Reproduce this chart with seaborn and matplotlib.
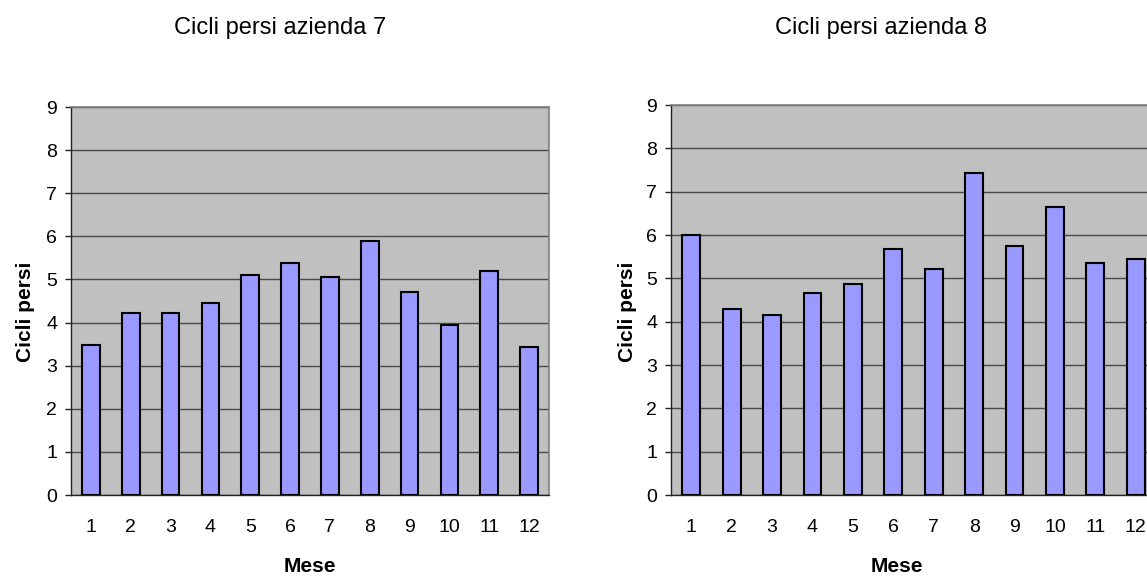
import matplotlib
matplotlib.use("Agg")
import matplotlib.pyplot as plt
import seaborn as sns
import pandas as pd
import numpy as np

mesi = ["1", "2", "3", "4", "5", "6", "7", "8", "9", "10", "11", "12"]
cicli_az7 = [3.48, 4.22, 4.22, 4.46, 5.11, 5.39, 5.05, 5.90, 4.70, 3.95, 5.20, 3.44]
cicli_az8 = [6.00, 4.30, 4.16, 4.67, 4.86, 5.68, 5.22, 7.44, 5.74, 6.65, 5.36, 5.45]
titoli = ["Cicli persi azienda 7", "Cicli persi azienda 8"]
y_ticks = [0, 1, 2, 3, 4, 5, 6, 7, 8, 9]
x_label = "Mese"
y_label = "Cicli persi"

sns.set_style("white")
plt.rcParams["font.family"] = ["Liberation Sans", "DejaVu Sans"]
plt.rcParams["text.color"] = "black"
plt.rcParams["axes.labelcolor"] = "black"
plt.rcParams["xtick.color"] = "black"
plt.rcParams["ytick.color"] = "black"

W, H = 1147, 583
fig = plt.figure(figsize=(W / 100, H / 100), dpi=100)
fig.patch.set_facecolor("white")

# axes rectangles in pixels: left, top, right, bottom
rects = [(71, 107, 549, 495), (671, 105, 1156, 495)]
title_x = [280, 881]
xlabel_x = [310, 897]
ylabel_x = [35, 637]

for i, (vals, (l, t, r, b)) in enumerate(zip([cicli_az7, cicli_az8], rects)):
    ax = fig.add_axes([l / W, 1 - b / H, (r - l) / W, (b - t) / H])
    df = pd.DataFrame({"Mese": mesi, "Cicli": vals})
    sns.barplot(data=df, x="Mese", y="Cicli", order=mesi, color="#9999FF",
                saturation=1, width=0.44, edgecolor="black", linewidth=1.5,
                ax=ax, zorder=3)
    ax.set_facecolor("#C0C0C0")
    ax.set_xlim(-0.5, len(mesi) - 0.5)
    ax.set_ylim(0, 9)
    ax.set_yticks(y_ticks)
    ax.yaxis.grid(True, color="#4a4a4a", linewidth=1.0, zorder=1)
    ax.xaxis.grid(False)
    ax.set_axisbelow(True)
    for s in ["top", "right"]:
        ax.spines[s].set_color("#808080")
        ax.spines[s].set_linewidth(1.2)
    for s in ["left", "bottom"]:
        ax.spines[s].set_color("#222222")
        ax.spines[s].set_linewidth(1.0)
        ax.spines[s].set_visible(True)
    # x ticks: marks between categories, labels under categories
    ax.set_xticks(np.arange(len(mesi)))
    ax.set_xticklabels(mesi)
    ax.set_xticks(np.arange(len(mesi) + 1) - 0.5, minor=True)
    ax.tick_params(axis="x", which="major", length=0, pad=17, labelsize=14, labelcolor="black")
    ax.tick_params(axis="x", which="minor", length=4, width=1, color="#222222", direction="out")
    ax.tick_params(axis="y", which="major", length=4, width=1, color="#222222",
                   direction="out", pad=6, labelsize=14, labelcolor="black", left=True)
    ax.set_xlabel(x_label, fontsize=15, fontweight="bold", color="black")
    ax.set_ylabel(y_label, fontsize=15, fontweight="bold", color="black")
    ax.xaxis.set_label_coords((xlabel_x[i] - l) / (r - l), -(557 - b) / (b - t))
    ax.yaxis.set_label_coords((ylabel_x[i] - l) / (r - l), (b - 312) / (b - t))
    ax.set_title(titoli[i], x=(title_x[i] - l) / (r - l), y=(b - 28) / (b - t),
                 va="center", fontsize=17, color="black", pad=0)

fig.savefig("out.png", dpi=100, facecolor="white")
